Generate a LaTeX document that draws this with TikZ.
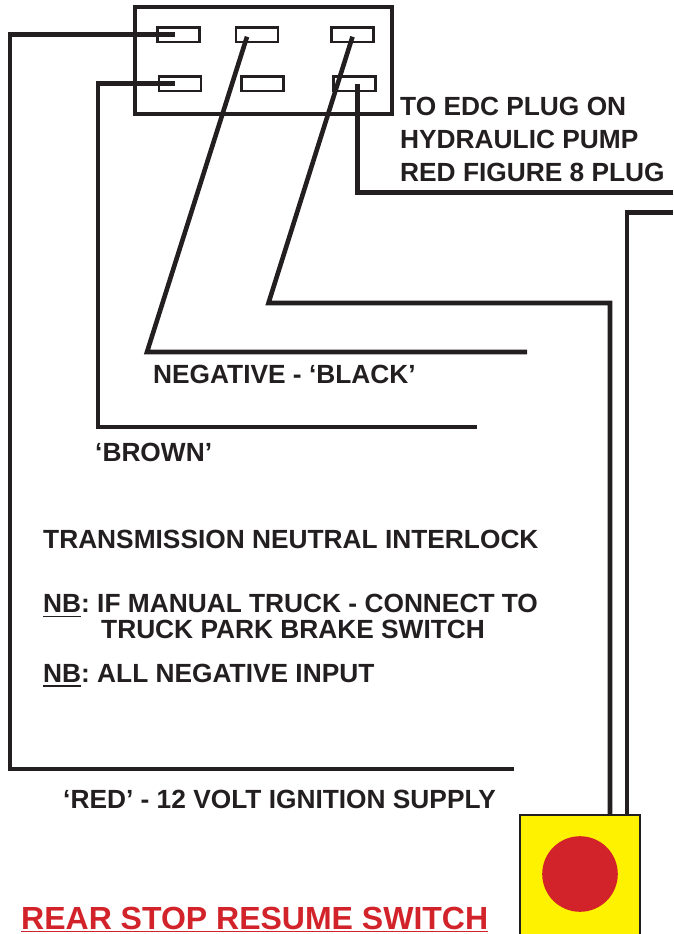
\documentclass[tikz,border=0pt]{standalone}
\usepackage{fontspec}
\setmainfont{Liberation Sans}
\usetikzlibrary{positioning}
\definecolor{ink}{HTML}{231F20}
\definecolor{swyellow}{HTML}{FFF200}
\definecolor{swred}{HTML}{D2232A}
\newcommand\undl[3]{\setbox0\hbox{#3}\rlap{\rule[-#1]{\wd0}{#2}}\box0}
\frenchspacing

\begin{document}
\begin{tikzpicture}[x=1pt,y=-1pt,
  wire/.style={draw=ink,line width=4.6pt},
  pin/.style={draw=ink,line width=2.4pt,minimum width=42pt,minimum height=14.7pt,inner sep=0pt},
  lbl/.style={anchor=base west,inner sep=0pt,text=ink,font=\fontsize{26.3}{30}\selectfont\bfseries}]
\useasboundingbox (0,0) rectangle (673,934);
\clip (0,0) rectangle (673,934);

% plug and its six pins
\node[draw=ink,line width=4.6pt,minimum width=257pt,minimum height=106.7pt,inner sep=0pt] (plug) at (263.3,60.5) {};
\node[pin] (p1) at (178.4,34.7) {};
\node[pin] (p2) at (257,34.7) {};
\node[pin] (p3) at (352.5,34.7) {};
\node[pin] (p4) at (179.9,83.7) {};
\node[pin] (p5) at (262.5,83.7) {};
\node[pin] (p6) at (354.3,83.7) {};

% switch
\node[draw=ink,line width=2pt,fill=swyellow,minimum width=119.4pt,minimum height=140pt,inner sep=0pt,anchor=north] (sw) at (580,814.3) {};
\node[circle,fill=swred,minimum size=75.6pt,inner sep=0pt,below=21.7pt of sw.north] (btn) {};

% wire ends and bends
\coordinate (redbend) at (10,769);
\coordinate (redend) at (513.5,769);
\coordinate (brownbend) at (98,427);
\coordinate (brownend) at (477,427);
\coordinate (blackbend) at (147,352);
\coordinate (blackend) at (527,352);
\coordinate (pumpbend) at (268.5,303);
\coordinate (edcout) at (673,192.7);
\coordinate (edcin) at (673,212.7);

\draw[wire] ([xshift=-3pt]p1.center) -| (redbend) -- (redend);
\draw[wire] ([xshift=-5pt]p4.center) -| (brownbend) -- (brownend);
\draw[wire] ([xshift=-10pt,yshift=-2pt]p2.center) -- (blackbend) -- (blackend);
\draw[wire] ([yshift=-2pt]p3.center) -- (pumpbend) -| ([xshift=30pt]sw.north);
\draw[wire] ([xshift=3pt]p6.center) |- (edcout);
\draw[wire] (edcin) -| ([xshift=47pt]sw.north);

% texts
\node[lbl] (edc1) at (400,115.5) {TO EDC PLUG ON};
\node[lbl] (edc2) at (400,148.5) {HYDRAULIC PUMP};
\node[lbl] (edc3) at (400,181) {RED FIGURE 8 PLUG};
\node[lbl] (neg) at (153,383) {NEGATIVE - ‘BLACK’};
\node[lbl] (brown) at (95,461.5) {‘BROWN’};
\node[lbl] (trans) at (43,548) {TRANSMISSION NEUTRAL INTERLOCK};
\node[lbl] (nbman) at (43,612.5) {\undl{4.9pt}{1.8pt}{NB}: IF MANUAL TRUCK - CONNECT TO};
\node[lbl] (nbpark) at (101,638) {TRUCK PARK BRAKE SWITCH};
\node[lbl] (nbneg) at (43,682) {\undl{4.9pt}{1.8pt}{NB}: ALL NEGATIVE INPUT};
\node[lbl] (ign) at (63,808) {‘RED’ - 12 VOLT IGNITION SUPPLY};
\node[lbl,text=swred,font=\fontsize{32}{36}\selectfont\bfseries] (title) at (21,929) {\undl{3.3pt}{1.6pt}{REAR STOP RESUME SWITCH}};

\end{tikzpicture}
\end{document}
